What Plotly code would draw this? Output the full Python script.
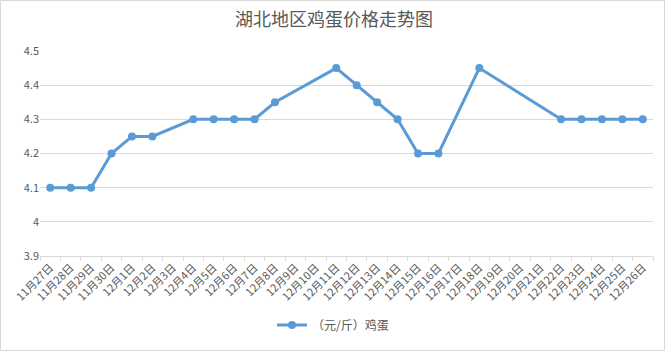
import plotly.graph_objects as go

dates = ["11月27日", "11月28日", "11月29日", "11月30日", "12月1日", "12月2日", "12月3日",
         "12月4日", "12月5日", "12月6日", "12月7日", "12月8日", "12月9日", "12月10日",
         "12月11日", "12月12日", "12月13日", "12月14日", "12月15日", "12月16日", "12月17日",
         "12月18日", "12月19日", "12月20日", "12月21日", "12月22日", "12月23日", "12月24日",
         "12月25日", "12月26日"]
prices = [4.1, 4.1, 4.1, 4.2, 4.25, 4.25, None,
          4.3, 4.3, 4.3, 4.3, 4.35, None, None,
          4.45, 4.4, 4.35, 4.3, 4.2, 4.2, None,
          4.45, None, None, None, 4.3, 4.3, 4.3,
          4.3, 4.3]
series_name = "（元/斤）鸡蛋"
title = "湖北地区鸡蛋价格走势图"

W, H = 668, 351
L, R, T, B = 40, 15, 51, 95

font = "Noto Sans CJK SC"
gray = "#595959"

fig = go.Figure()
fig.add_trace(go.Scatter(
    x=dates, y=prices, name=series_name, mode="lines+markers",
    connectgaps=True,
    line=dict(color="#5B9BD5", width=3),
    marker=dict(color="#5B9BD5", size=8),
))

fig.update_layout(
    width=W, height=H,
    margin=dict(l=L, r=R, t=T, b=B),
    paper_bgcolor="white", plot_bgcolor="white",
    title=dict(text=title, x=0.5, xanchor="center", y=1 - 20 / H, yanchor="middle",
               font=dict(family=font, size=18, color=gray)),
    font=dict(family=font, color=gray),
    showlegend=True,
    legend=dict(orientation="h", x=(333 - L) / (W - L - R), xanchor="center",
                y=-(325 - (H - B)) / (H - T - B),
                yanchor="middle", font=dict(family=font, size=12, color=gray)),
    xaxis=dict(type="category", range=[-0.5, len(dates) - 0.5],
               tickangle=-45, tickfont=dict(family=font, size=11, color=gray),
               showgrid=False, showline=True, linecolor="#D9D9D9", linewidth=1,
               ticks="outside", ticklen=4, tickcolor="#D9D9D9", tickson="boundaries"),
    yaxis=dict(range=[3.9, 4.5], dtick=0.1, tickformat="~g",
               tickfont=dict(family=font, size=11, color=gray),
               showgrid=True, gridcolor="#D9D9D9", gridwidth=1,
               zeroline=False, showline=False, ticks=""),
)

# chart border
fig.add_shape(type="rect", xref="paper", yref="paper",
              x0=-(L - 0.5) / (W - L - R), x1=1 + (R - 3.5) / (W - L - R),
              y0=-(B - 0.5) / (H - T - B), y1=1 + (T - 0.5) / (H - T - B),
              line=dict(color="#D9D9D9", width=1))

fig.write_html("out.html")
